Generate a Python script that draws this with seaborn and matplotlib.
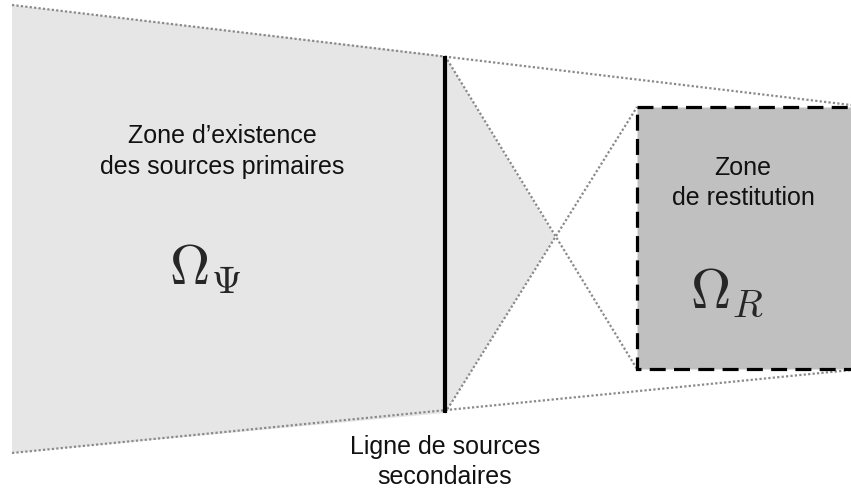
import numpy as np
import pandas as pd
import seaborn as sns
from matplotlib import pyplot as plt
from matplotlib.patches import Polygon

sns.set_theme(style="white")
plt.rcParams['font.family'] = ['Liberation Sans', 'DejaVu Sans']
plt.rcParams['mathtext.fontset'] = 'cm'

# geometry of the diagram (pixel units, y pointing down)
outer_top = [(12, 5), (851, 105)]
outer_bottom = [(12, 453), (851, 370)]
source_line = [(445, 56), (445, 413)]
cross_point = (555, 237)
zone_r = [(637, 107), (860, 107), (860, 369), (637, 369)]

labels_left = ["Zone d\u2019existence", "des sources primaires"]
labels_right = ["Zone", "de restitution"]
labels_bottom = ["Ligne de sources", "secondaires"]

fig, ax = plt.subplots(figsize=(8.51, 4.92), dpi=100)
fig.subplots_adjust(0, 0, 1, 1)

# shaded zone of primary sources + triangle after the line
ax.add_patch(Polygon([outer_top[0], source_line[0], source_line[1], outer_bottom[0]],
                     closed=True, facecolor='#e6e6e6', edgecolor='none'))
ax.add_patch(Polygon([source_line[0], cross_point, source_line[1]],
                     closed=True, facecolor='#e6e6e6', edgecolor='none'))

# restitution zone
ax.add_patch(Polygon(zone_r, closed=True, facecolor='#c0c0c0', edgecolor='black',
                     linewidth=2.3, linestyle=(0, (5, 2.6)), zorder=3))

# dotted construction lines
edges = pd.DataFrame({
    'x': [outer_top[0][0], outer_top[1][0], outer_bottom[0][0], outer_bottom[1][0],
          source_line[0][0], zone_r[3][0], source_line[1][0], zone_r[0][0]],
    'y': [outer_top[0][1], outer_top[1][1], outer_bottom[0][1], outer_bottom[1][1],
          source_line[0][1], zone_r[3][1], source_line[1][1], zone_r[0][1]],
    'seg': ['top', 'top', 'bottom', 'bottom', 'd1', 'd1', 'd2', 'd2'],
})
for seg, d in edges.groupby('seg'):
    sns.lineplot(data=d, x='x', y='y', sort=False, ax=ax, color='#8a8a8a',
                 linewidth=1.6, linestyle=(0, (1, 1)), zorder=2)

# secondary source line
ax.plot([source_line[0][0], source_line[1][0]], [source_line[0][1], source_line[1][1]],
        color='black', linewidth=3, solid_capstyle='butt', zorder=4)

# texts
fs = 18
ax.text(222, 136, labels_left[0], ha='center', va='center', fontsize=fs, color='#111111')
ax.text(222, 167, labels_left[1], ha='center', va='center', fontsize=fs, color='#111111')
ax.text(205, 270, r'$\Omega_\Psi$', ha='center', va='center', fontsize=40)
ax.text(743, 168, labels_right[0], ha='center', va='center', fontsize=fs, color='#111111')
ax.text(743, 198, labels_right[1], ha='center', va='center', fontsize=fs, color='#111111')
ax.text(727, 294, r'$\Omega_R$', ha='center', va='center', fontsize=40, zorder=5)
ax.text(445, 447, labels_bottom[0], ha='center', va='center', fontsize=fs, color='#111111')
ax.text(445, 477, labels_bottom[1], ha='center', va='center', fontsize=fs, color='#111111')

ax.set_xlabel('')
ax.set_ylabel('')
ax.set_xlim(0, 851)
ax.set_ylim(492, 0)
ax.axis('off')

fig.savefig('out.png', dpi=100)
